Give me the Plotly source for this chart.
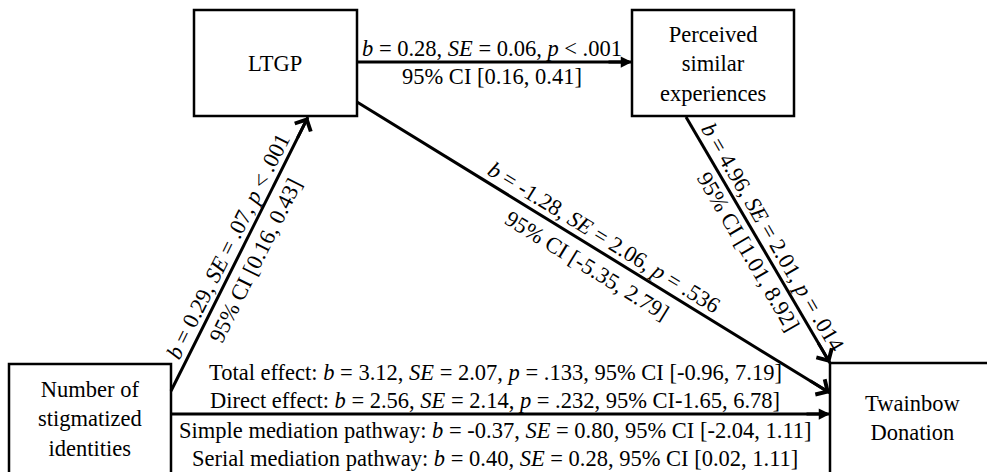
import math
import plotly.graph_objects as go

# ---------------- data ----------------
node_keys = ["X", "M1", "M2", "Y"]
node_labels = ["Number of<br>stigmatized<br>identities", "LTGP",
               "Perceived<br>similar<br>experiences", "Twainbow<br>Donation"]

path_from = ["X", "M1", "M1", "M2"]
path_to = ["M1", "M2", "Y", "Y"]
path_b = ["0.29", "0.28", "-1.28", "4.96"]
path_se = [".07", "0.06", "2.06", "2.01"]
path_p = ["&lt; .001", "&lt; .001", "= .536", "= .014"]
path_ci = ["[0.16, 0.43]", "[0.16, 0.41]", "[-5.35, 2.79]", "[1.01, 8.92]"]

effect_names = ["Total effect", "Direct effect", "Simple mediation pathway", "Serial mediation pathway"]
effect_b = ["3.12", "2.56", "-0.37", "0.40"]
effect_se = ["2.07", "2.14", "0.80", "0.28"]
effect_p = [".133", ".232", None, None]
effect_ci = ["[-0.96, 7.19]", "-1.65, 6.78]", "[-2.04, 1.11]", "[0.02, 1.11]"]

# ---------------- layout (pixel geometry) ----------------
W, H = 987, 472
boxes = {  # x0, y0, x1, y1
    "X": (9, 364, 171, 490),
    "M1": (194, 10, 357, 116),
    "M2": (632, 10, 794, 116),
    "Y": (830, 363, 1010, 490),
}
label_pos = {"X": (90, 419), "M1": (275, 63), "M2": (713, 64), "Y": (912, 418)}
edges = {  # tail point, head point, head style
    ("X", "M1"): ((171, 391), (308, 117), "open"),
    ("M1", "M2"): ((357, 62), (632, 62), "filled"),
    ("M1", "Y"): ((357, 102), (830, 393), "open"),
    ("M2", "Y"): ((686, 117), (830, 363), "open"),
}
# label placement along each edge: fraction, perpendicular offset for stats / CI
label_place = {
    ("X", "M1"): (0.505, 13.6, -16.8),
    ("M1", "M2"): (0.49, 14, -14),
    ("M1", "Y"): (0.507, 13.6, -19.3),
    ("M2", "Y"): (0.518, 14.5, -14.7),
}
direct_tail, direct_head = (171, 414), (830, 414)
effect_y = [372, 400, 430, 458]
effect_x = 495

FONT = "Liberation Serif"
FS = 22.5
INK = "#000000"

fig = go.Figure()
shapes = []
annotations = []

for k in node_keys:
    x0, y0, x1, y1 = boxes[k]
    shapes.append(dict(type="rect", xref="x", yref="y", x0=x0, y0=y0, x1=x1, y1=y1,
                       line=dict(color=INK, width=2.5), fillcolor="white", layer="below"))
for k, lab in zip(node_keys, node_labels):
    lx, ly = label_pos[k]
    annotations.append(dict(x=lx, y=ly, xref="x", yref="y", text=lab, showarrow=False,
                            font=dict(family=FONT, size=FS, color=INK),
                            xanchor="center", yanchor="middle"))


def add_arrow(tail, head, style):
    shapes.append(dict(type="line", xref="x", yref="y", x0=tail[0], y0=tail[1],
                       x1=head[0], y1=head[1], line=dict(color=INK, width=3)))
    dx, dy = head[0] - tail[0], head[1] - tail[1]
    L = math.hypot(dx, dy)
    ux, uy = dx / L, dy / L
    back = 25
    if style == "filled":
        ah, asz, aw = 2, 0.75, 3
    else:
        ah, asz, aw = 4, 1.15, 3
    annotations.append(dict(x=head[0], y=head[1], xref="x", yref="y",
                            ax=head[0] - ux * back, ay=head[1] - uy * back,
                            axref="x", ayref="y", text="", showarrow=True,
                            arrowhead=ah, arrowsize=asz, arrowwidth=aw, arrowcolor=INK))
    return ux, uy


for i in range(len(path_from)):
    key = (path_from[i], path_to[i])
    tail, head, style = edges[key]
    ux, uy = add_arrow(tail, head, style)
    t, off_s, off_c = label_place[key]
    nx, ny = uy, -ux  # normal pointing to the "upper" side of the reading direction
    mx = tail[0] + (head[0] - tail[0]) * t
    my = tail[1] + (head[1] - tail[1]) * t
    ang = math.degrees(math.atan2(uy, ux))
    stats = f"<i>b</i> = {path_b[i]}, <i>SE</i> = {path_se[i]}, <i>p</i> {path_p[i]}"
    ci = f"95% CI {path_ci[i]}"
    for txt, off in ((stats, off_s), (ci, off_c)):
        annotations.append(dict(x=mx + nx * off, y=my + ny * off, xref="x", yref="y",
                                text=txt, showarrow=False, textangle=ang,
                                font=dict(family=FONT, size=FS, color=INK),
                                xanchor="center", yanchor="middle"))

add_arrow(direct_tail, direct_head, "filled")

for name, b, se, p, ci, y in zip(effect_names, effect_b, effect_se, effect_p, effect_ci, effect_y):
    parts = f"{name}: <i>b</i> = {b}, <i>SE</i> = {se}, "
    if p is not None:
        parts += f"<i>p</i> = {p}, "
    parts += f"95% CI {ci}" if ci.startswith("[") else f"95% CI{ci}"
    annotations.append(dict(x=effect_x, y=y, xref="x", yref="y", text=parts, showarrow=False,
                            font=dict(family=FONT, size=FS, color=INK),
                            xanchor="center", yanchor="middle"))

fig.update_layout(
    width=W, height=H, margin=dict(l=0, r=0, t=0, b=0),
    paper_bgcolor="white", plot_bgcolor="white",
    font=dict(family=FONT, size=FS, color=INK),
    xaxis=dict(range=[0, W], visible=False, fixedrange=True),
    yaxis=dict(range=[H, 0], visible=False, fixedrange=True),
    shapes=shapes, annotations=annotations, showlegend=False,
)
fig.write_html("out.html", config={"displayModeBar": False},
               post_script="document.body.style.margin='0';document.body.style.overflow='hidden';")
